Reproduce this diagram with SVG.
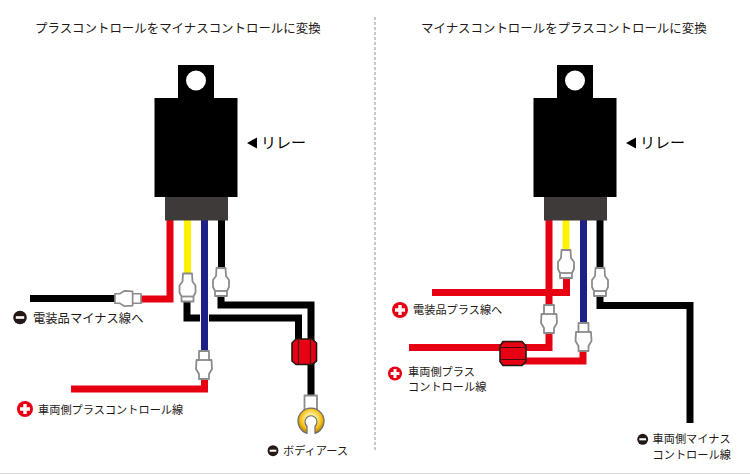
<svg xmlns="http://www.w3.org/2000/svg" width="750" height="474" viewBox="0 0 750 474">
<style>
text{font-family:"Noto Sans CJK JP","Noto Sans",sans-serif;font-size:11.2px;fill:#231815}
.t{font-size:12.45px}
.w{fill:none;stroke-width:7;stroke-linejoin:miter}
.r{stroke:#e60012}.k{stroke:#000}.y{stroke:#fff100}.b{stroke:#1d2088}
.c{fill:#fff;stroke:#8c8c8c;stroke-width:1.8;stroke-linejoin:round}
.s{fill:#e60012;stroke:#231815;stroke-width:1.6;stroke-linejoin:round}
.sl{fill:none;stroke:#4a0a0e;stroke-width:1.2}
</style>
<defs>
<g id="conn">
<path class="c" d="M-4.500 0H4.500L5 8L8 12V19L6 23V28H-6V23L-8 19V12L-5 8Z"/>
<path class="c" d="M-6 23H6"/>
</g>
<g id="conn2">
<path class="c" d="M-5 0H5V9H7.500L8 18L5 23V28H-5V23L-8 18L-7.500 9H-5Z"/>
<path class="c" d="M-5 9H5"/>
</g>
<g id="relay">
<path d="M178 65H214V98H237.500V197H228V220H165V197H154.500V98H178Z" fill="#000"/>
<rect x="165" y="197" width="63" height="23.500" fill="#3e3a39"/>
<circle cx="196" cy="80.500" r="10" fill="#fff"/>
<path d="M247 143L257 137.500V148.500Z" fill="#000"/>
<text x="261" y="148" style="font-size:15px;fill:#000">リレー</text>
</g>
<g id="minus"><circle r="6.800" fill="#231815"/><rect x="-4.200" y="-1.300" width="8.400" height="2.600" fill="#fff"/></g>
<g id="plus"><circle r="8" fill="#e60012"/><path d="M-1.700-5H1.700V-1.700H5V1.700H1.700V5H-1.700V1.700H-5V-1.700H-1.700Z" fill="#fff"/></g>
<radialGradient id="gold" gradientUnits="userSpaceOnUse" cx="311" cy="419" r="14"><stop offset=".4" stop-color="#ffe98a"/><stop offset=".75" stop-color="#f5bd12"/><stop offset="1" stop-color="#b98a08"/></radialGradient>
</defs>
<rect width="750" height="474" fill="#fff"/>
<rect y="473" width="750" height="1" fill="#d8d8d8"/>
<path d="M375 17V450" stroke="#aaa" stroke-width="1.300" stroke-dasharray="3 2" fill="none"/>
<text class="t" x="35" y="33">プラスコントロールをマイナスコントロールに変換</text>
<text class="t" x="421" y="33">マイナスコントロールをプラスコントロールに変換</text>

<g id="connectors">
<g id="left-wires">
<path class="w k" d="M30 298.500H120"/>
<path class="w r" d="M140 299H170V220"/>
<path class="w y" d="M187.500 220V276"/>
<path class="w k" d="M187 298V318H298.500V342"/>
<path d="M204.500 313V323" stroke="#fff" stroke-width="9" fill="none"/>
<path class="w b" d="M204.500 220V354"/>
<path class="w r" d="M71 389H204.500V376"/>
<path class="w k" d="M221.500 220V270"/>
<path class="w k" d="M221 294V305H311V397"/>
</g>
<g id="right-wires">
<path class="w r" d="M566.500 276V292.500H432"/>
<path class="w y" d="M566 220V252"/>
<path class="w r" d="M549 220V307"/>
<path class="w r" d="M549 329V347.500H409"/>
<path class="w b" d="M583.500 220V325"/>
<path class="w r" d="M583 349V361H522"/>
<path class="w k" d="M600 220V270"/>
<path class="w k" d="M600 294V305.500H690V423"/>
</g>
</g>

<g id="relay-left"><use href="#relay"/></g>
<g id="relay-right"><use href="#relay" x="379"/></g>

<g id="conn-l1"><use href="#conn2" transform="translate(141 298.500) rotate(90) scale(.95 .93)"/></g>
<g id="conn-l2"><use href="#conn" x="187.500" y="273.500"/></g>
<g id="conn-l3"><use href="#conn2" x="204" y="351"/></g>
<g id="conn-l4"><use href="#conn" x="221" y="268"/></g>
<g id="conn-r1"><use href="#conn" x="566" y="250"/></g>
<g id="conn-r2"><use href="#conn2" x="549" y="305"/></g>
<g id="conn-r3"><use href="#conn2" x="583.500" y="323"/></g>
<g id="conn-r4"><use href="#conn" x="600" y="268"/></g>

<g id="sleeve-left">
<path class="s" d="M296 339H312L316.500 343V361L312 364.500H296L292 361V343Z"/>
<path class="sl" d="M298.500 339.500V364M310.500 339.500V364"/>
</g>
<g id="sleeve-right">
<path class="s" d="M503 341.500H522L526 346V361.500L522 365.500H503L500 361.500V346Z"/>
<path class="sl" d="M500 347.500H526M500 359.500H526"/>
</g>

<g id="terminal">
<path class="c" d="M304.500 395.500H317V413H304.500Z"/>
<path d="M307 433.400A13 13 0 1 1 315 433.400V426.200A6 6 0 1 0 307 426.200Z" fill="url(#gold)" stroke="#6e6e6e" stroke-width="1.200" stroke-linejoin="round"/>
</g>

<g id="label-l1"><use href="#minus" x="20" y="317.500"/><text x="33" y="322.500" style="font-size:12.3px">電装品マイナス線へ</text></g>
<g id="label-l2"><use href="#plus" x="25" y="409"/><text x="38" y="413.500">車両側プラスコントロール線</text></g>
<g id="label-l3"><use href="#minus" transform="translate(273 450.700) scale(.8)"/><text x="283" y="454.700">ボディアース</text></g>
<g id="label-r1"><use href="#plus" x="400" y="310"/><text x="413" y="314">電装品プラス線へ</text></g>
<g id="label-r2"><use href="#plus" transform="translate(395 373.500) scale(.88)"/><text x="408" y="376">車両側プラス</text><text x="408" y="391.300">コントロール線</text></g>
<g id="label-r3"><use href="#minus" transform="translate(642.700 439.300) scale(.8)"/><text x="652.500" y="443.300">車両側マイナス</text><text x="652.500" y="458.500">コントロール線</text></g>
</svg>
